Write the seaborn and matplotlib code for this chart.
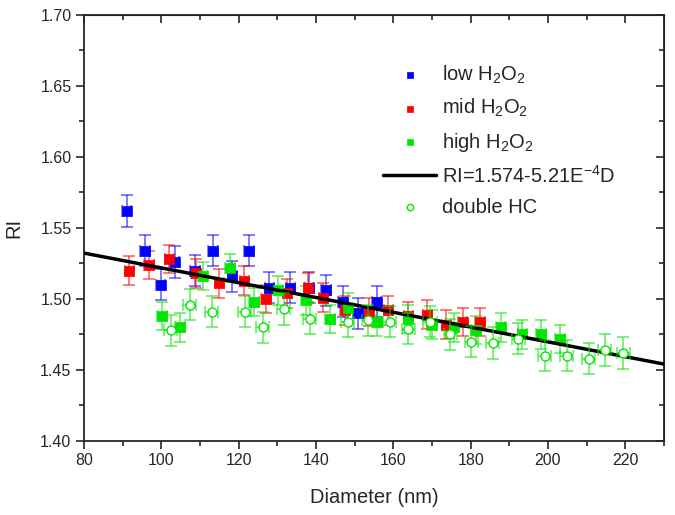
import numpy as np
import pandas as pd
import matplotlib
matplotlib.use('Agg')
import matplotlib.pyplot as plt
import seaborn as sns
from matplotlib.ticker import MultipleLocator

# readings from the reference picture (diameter in nm, refractive index)
low_d = [91.0, 95.8, 99.8, 103.5, 108.7, 113.4, 118.4, 122.7, 127.9, 133.4, 138.3, 142.6, 146.9, 150.9, 155.7]
low_ri = [1.562, 1.534, 1.510, 1.526, 1.520, 1.534, 1.516, 1.534, 1.508, 1.508, 1.508, 1.506, 1.498, 1.490, 1.498]

mid_d = [91.7, 96.8, 102.1, 108.9, 115.0, 121.5, 127.1, 132.6, 138.0, 141.9, 147.5, 153.6, 158.7, 163.9,
         168.8, 173.7, 177.9, 182.4]
mid_ri = [1.520, 1.524, 1.528, 1.518, 1.511, 1.513, 1.500, 1.504, 1.508, 1.501, 1.492, 1.491, 1.492, 1.488,
          1.489, 1.482, 1.484, 1.484]

high_d = [100.2, 104.8, 110.7, 117.8, 124.0, 130.2, 137.3, 143.6, 148.3, 155.8, 163.9, 169.9, 175.6, 181.4,
          187.8, 193.4, 198.2, 203.1]
high_ri = [1.488, 1.480, 1.516, 1.522, 1.498, 1.506, 1.499, 1.486, 1.494, 1.484, 1.486, 1.482, 1.480, 1.478,
           1.480, 1.475, 1.475, 1.472]

hc_d = [102.4, 107.4, 113.0, 121.6, 126.2, 131.7, 138.4, 148.2, 153.5, 159.1, 163.9, 169.5, 174.7, 180.2,
        185.7, 192.3, 199.2, 204.8, 210.5, 214.7, 219.5]
hc_ri = [1.478, 1.496, 1.491, 1.491, 1.480, 1.493, 1.486, 1.484, 1.485, 1.484, 1.479, 1.484, 1.475, 1.470,
         1.469, 1.472, 1.460, 1.460, 1.458, 1.464, 1.462]

# error bar half widths
low_err = 0.011
mid_err = 0.010
high_err = 0.010
hc_err = 0.011
sq_xerr = 1.2
hc_xerr = 1.7

# linear fit shown in the legend
fit_a = 1.574
fit_b = 5.21e-4
fit_d = [80, 230]

sns.set_style('ticks')
plt.rcParams['font.family'] = ['Liberation Sans', 'DejaVu Sans']
plt.rcParams['mathtext.fontset'] = 'custom'
plt.rcParams['mathtext.rm'] = 'Liberation Sans'
plt.rcParams['mathtext.it'] = 'Liberation Sans'

fig = plt.figure(figsize=(6.75, 5.15), dpi=100)
ax = fig.add_axes([0.1244, 0.1437, 0.8593, 0.8272])

blue = '#0000ff'
red = '#ff0000'
green = '#00e600'

groups = [
    (low_d, low_ri, low_err, blue, 'low H$_2$O$_2$'),
    (mid_d, mid_ri, mid_err, red, 'mid H$_2$O$_2$'),
    (high_d, high_ri, high_err, green, 'high H$_2$O$_2$'),
]
for d, ri, err, col, lab in groups:
    ax.errorbar(d, ri, yerr=err, xerr=sq_xerr, fmt='none', ecolor=col, elinewidth=1.1,
                capsize=4, capthick=1.1, alpha=0.65, zorder=2)
    df = pd.DataFrame({'D': d, 'RI': ri})
    sns.scatterplot(data=df, x='D', y='RI', ax=ax, marker='s', s=48, color=col,
                    edgecolor=col, linewidth=0.5, label=lab, zorder=3)

fit_df = pd.DataFrame({'D': fit_d, 'RI': [fit_a - fit_b * v for v in fit_d]})
sns.lineplot(data=fit_df, x='D', y='RI', ax=ax, color='black', linewidth=2.5,
             label='RI=1.574-5.21E$^{-4}$D', zorder=4)

ax.errorbar(hc_d, hc_ri, yerr=hc_err, xerr=hc_xerr, fmt='none', ecolor=green, elinewidth=1.1,
            capsize=4, capthick=1.1, alpha=0.65, zorder=5)
hc_df = pd.DataFrame({'D': hc_d, 'RI': hc_ri})
sns.scatterplot(data=hc_df, x='D', y='RI', ax=ax, marker='o', s=42, facecolor='white',
                edgecolor=green, linewidth=1.0, label='double HC', zorder=6)

ax.set_xlim(80, 230)
ax.set_ylim(1.40, 1.70)
ax.set_xticks(np.arange(80, 221, 20))
ax.set_yticks(np.arange(1.40, 1.701, 0.05))
ax.set_yticklabels([f'{v:.2f}' for v in np.arange(1.40, 1.701, 0.05)])
ax.xaxis.set_minor_locator(MultipleLocator(10))
ax.yaxis.set_minor_locator(MultipleLocator(0.025))
ax.tick_params(which='major', direction='out', length=6, width=1.2, labelsize=11.5, pad=3)
ax.tick_params(which='minor', direction='out', length=3.5, width=1.2)
for s in ax.spines.values():
    s.set_linewidth(1.3)
    s.set_visible(True)

top = ax.secondary_xaxis('top')
top.set_xticks(np.arange(80, 221, 20))
top.xaxis.set_minor_locator(MultipleLocator(10))
top.tick_params(which='both', direction='in', labeltop=False, width=1.2)
top.tick_params(which='major', length=6)
top.tick_params(which='minor', length=3.5)
right = ax.secondary_yaxis('right')
right.set_yticks(np.arange(1.40, 1.701, 0.05))
right.yaxis.set_minor_locator(MultipleLocator(0.025))
right.tick_params(which='both', direction='in', labelright=False, width=1.2)
right.tick_params(which='major', length=6)
right.tick_params(which='minor', length=3.5)

ax.set_xlabel('Diameter (nm)', fontsize=14.5, labelpad=14)
ax.set_ylabel('RI', fontsize=14.5, labelpad=12)

leg = ax.legend(loc='upper left', bbox_to_anchor=(0.485, 0.928), frameon=False, fontsize=14.5,
                handlelength=2.6, handletextpad=0.3, labelspacing=0.55, markerscale=0.7)

fig.savefig('out.png', dpi=100)
